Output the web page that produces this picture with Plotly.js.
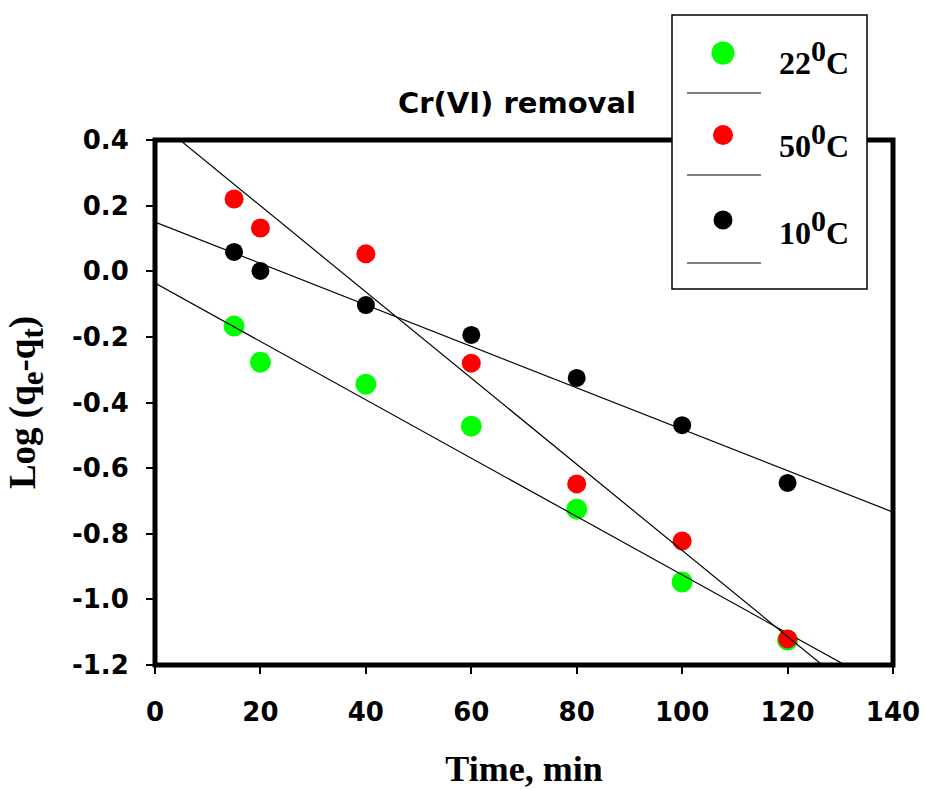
<!DOCTYPE html>
<html>
<head>
<meta charset="utf-8">
<script src="https://cdn.plot.ly/plotly-3.0.1.min.js"></script>
<style>html,body{margin:0;padding:0;background:#fff;}#chart{width:925px;height:790px;}</style>
</head>
<body>
<div id="chart"></div>
<script>
// Time points (min)
var timeMin = [15, 20, 40, 60, 80, 100, 120];
// Log(qe - qt) values
var log22C = [-0.167, -0.277, -0.344, -0.472, -0.725, -0.947, -1.124];
var log50C = [0.220, 0.132, 0.053, -0.280, -0.648, -0.822, -1.121];
var log10C = [0.059, 0.001, -0.103, -0.194, -0.325, -0.469, -0.645];
// Fitted lines, endpoints
var fitX = [0, 140];
var fit22C = [-0.036, -1.281];
var fit50C = [0.462, -1.376];
var fit10C = [0.150, -0.734];
var xTicks = [0, 20, 40, 60, 80, 100, 120, 140];
var yTicks = [0.4, 0.2, 0.0, -0.2, -0.4, -0.6, -0.8, -1.0, -1.2];
var yTickText = ['0.4', '0.2', '0.0', '-0.2', '-0.4', '-0.6', '-0.8', '-1.0', '-1.2'];
var seriesLabels = ['22', '50', '10'];

var colors = ['#00ff00', '#ff0000', '#000000'];
var sizes = [21, 19, 18];
var ys = [log22C, log50C, log10C];
var fits = [fit22C, fit50C, fit10C];

var traces = [];
for (var i = 0; i < 3; i++) {
  traces.push({
    x: timeMin, y: ys[i], type: 'scatter', mode: 'markers',
    name: seriesLabels[i] + '°C',
    marker: {color: colors[i], size: sizes[i], line: {width: 0}},
    cliponaxis: false
  });
  traces.push({
    x: fitX, y: fits[i], type: 'scatter', mode: 'lines',
    name: seriesLabels[i] + '°C fit',
    line: {color: '#000000', width: 1.2}
  });
}

// pixel -> paper helpers for the hand-built legend box
var PL = 155, PW = 738, PB = 665, PH = 525;
function px(x) { return (x - PL) / PW; }
function py(y) { return (PB - y) / PH; }

var shapes = [
  {type: 'rect', xref: 'paper', yref: 'paper', x0: 0, x1: 1, y0: 0, y1: 1,
   line: {color: '#000', width: 5}, layer: 'above'},
  {type: 'rect', xref: 'paper', yref: 'paper', x0: px(672), x1: px(867), y0: py(289), y1: py(15),
   fillcolor: '#ffffff', line: {color: '#000', width: 1.5}, layer: 'above'}
];
var annotations = [];
var legMarkY = [53, 135, 220];
var legLineY = [93, 175, 263];
var legTextY = [58, 141, 227];
var legR = [11.5, 10, 9.5];
for (var k = 0; k < 3; k++) {
  shapes.push({type: 'circle', xref: 'paper', yref: 'paper', xsizemode: 'pixel', ysizemode: 'pixel',
    xanchor: px(723), yanchor: py(legMarkY[k]), x0: -legR[k], x1: legR[k], y0: -legR[k], y1: legR[k],
    fillcolor: colors[k], line: {width: 0}, layer: 'above'});
  shapes.push({type: 'line', xref: 'paper', yref: 'paper', x0: px(687), x1: px(761),
    y0: py(legLineY[k]), y1: py(legLineY[k]), line: {color: '#000', width: 1.2}, layer: 'above'});
  annotations.push({xref: 'paper', yref: 'paper', x: px(777), y: py(legTextY[k]),
    xanchor: 'left', yanchor: 'middle', showarrow: false,
    text: '<b>' + seriesLabels[k] + '<sup><span style="font-size:30px">0</span></sup>C</b>',
    font: {family: 'Liberation Serif', size: 32, color: '#000'}});
}

var layout = {
  width: 925, height: 790,
  margin: {l: 155, r: 32, t: 140, b: 125},
  paper_bgcolor: '#ffffff', plot_bgcolor: '#ffffff',
  showlegend: false,
  title: {text: '<b>Cr(VI) removal</b>', font: {family: 'DejaVu Sans', size: 29, color: '#000'},
          x: 517 / 925, xref: 'container', xanchor: 'center', y: 1 - 103 / 790, yref: 'container', yanchor: 'middle'},
  xaxis: {
    range: [0, 140], tickvals: xTicks, ticktext: xTicks.map(String),
    showgrid: false, zeroline: false, showline: false,
    ticks: 'outside', ticklen: 8, tickwidth: 2, tickcolor: '#000',
    ticklabelstandoff: 16,
    tickfont: {family: 'DejaVu Sans', size: 26, color: '#000', weight: 'bold'},
    title: {text: '<b>Time, min</b>', font: {family: 'Liberation Serif', size: 36, color: '#000'}, standoff: 29}
  },
  yaxis: {
    range: [-1.2, 0.4], tickvals: yTicks, ticktext: yTickText,
    showgrid: false, zeroline: false, showline: false,
    ticks: 'outside', ticklen: 8, tickwidth: 2, tickcolor: '#000',
    ticklabelstandoff: 12,
    tickfont: {family: 'DejaVu Sans', size: 26, color: '#000', weight: 'bold'},
    title: {text: '<b>Log (q<sub><span style="font-size:31px">e</span></sub>-q<sub><span style="font-size:31px">t</span></sub>)</b>',
            font: {family: 'Liberation Serif', size: 37, color: '#000'}, standoff: 24}
  },
  shapes: shapes,
  annotations: annotations
};

Plotly.newPlot('chart', traces, layout, {displayModeBar: false, staticPlot: true});
</script>
</body>
</html>
